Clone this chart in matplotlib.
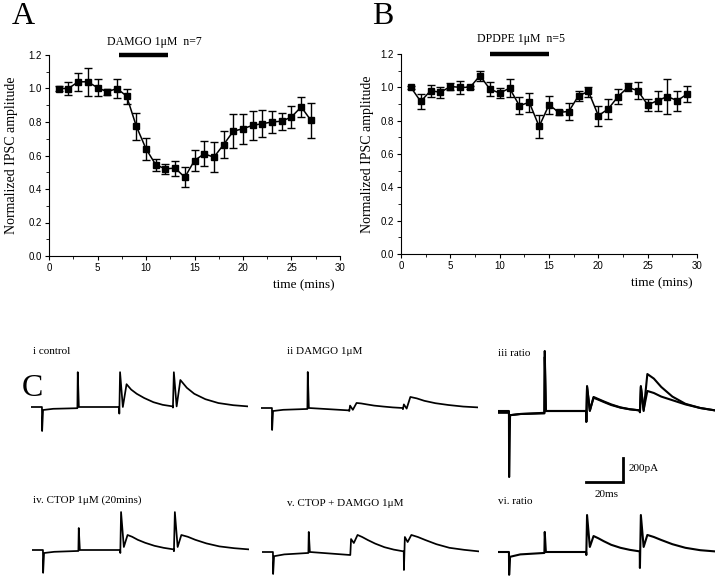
import numpy as np
import matplotlib
matplotlib.use("Agg")
import matplotlib.pyplot as plt
from matplotlib.ticker import MultipleLocator

# ---- panel A: DAMGO 1uM, n=7 ----
time_a = list(range(1, 28))
amp_a = [1.00, 1.00, 1.04, 1.04, 1.005, 0.98, 1.00, 0.955, 0.775, 0.64, 0.545, 0.52,
         0.525, 0.47, 0.57, 0.61, 0.59, 0.665, 0.745, 0.76, 0.78, 0.79, 0.80, 0.805,
         0.83, 0.89, 0.81]
err_a = [0.015, 0.04, 0.055, 0.085, 0.05, 0.02, 0.055, 0.045, 0.08, 0.065, 0.035, 0.03,
         0.045, 0.06, 0.065, 0.075, 0.09, 0.08, 0.10, 0.09, 0.085, 0.08, 0.065, 0.05,
         0.065, 0.06, 0.105]
drug_a = (7.2, 12.3)

# ---- panel B: DPDPE 1uM, n=5 ----
time_b = list(range(1, 30))
amp_b = [1.00, 0.915, 0.98, 0.97, 1.005, 1.00, 1.00, 1.07, 0.99, 0.965, 0.995, 0.89,
         0.91, 0.765, 0.895, 0.85, 0.855, 0.95, 0.975, 0.83, 0.87, 0.945, 1.00, 0.98,
         0.895, 0.92, 0.945, 0.92, 0.96]
err_b = [0.01, 0.045, 0.035, 0.035, 0.02, 0.04, 0.01, 0.03, 0.04, 0.03, 0.055, 0.05,
         0.055, 0.07, 0.055, 0.015, 0.05, 0.03, 0.03, 0.06, 0.06, 0.045, 0.025, 0.05,
         0.035, 0.06, 0.105, 0.06, 0.05]
drug_b = (9.05, 14.97)

# ---- panel C: current traces (vertices, ms / pA from baseline) ----
trace_ms = [0, 5.9, 6.0, 6.5, 12, 25.0, 25.2, 25.8, 47.5, 47.6, 48.0, 49.5, 51.5,
            54, 57, 61, 66, 71, 76.4, 76.5, 77.0, 78.5, 80.5, 84, 88, 94, 101, 109, 117]
tr_control = [0, 0, -200, -25, -15, -10, 290, 0, 0, -55, 290, 0, 190,
              145, 110, 75, 40, 18, 5, -5, 290, 5, 225, 160, 110, 65, 33, 15, 5]
tr_damgo = [0, 0, -183, -25, -15, -8, 300, 0, -20, -25, 20, -15, 42,
            38, 30, 20, 12, 5, 0, -10, 30, -5, 92, 80, 60, 40, 25, 12, 5]
tr_ratio_a = [0, 0, -550, -35, -25, -15, 500, 0, 0, -90, 208, 0, 117,
              100, 80, 55, 30, 15, 5, -10, 208, 0, 308, 270, 200, 120, 60, 25, 5]
tr_ratio_b = [-15, -15, -60, -35, -25, -20, 450, 0, 0, -90, 200, 5, 110,
              95, 75, 50, 28, 14, 5, -10, 200, 10, 167, 150, 120, 90, 55, 25, 5]
tr_ctop = [0, 0, -190, -25, -15, -8, 183, 0, 0, -25, 316, 25, 125,
           110, 85, 60, 35, 18, 5, -10, 316, 25, 125, 110, 85, 55, 30, 15, 5]
tr_ctop_damgo = [0, 0, -183, -35, -20, -8, 167, 0, -25, -25, 108, 75, 142,
                 125, 100, 70, 40, 20, 5, -150, 125, 83, 142, 125, 100, 65, 35, 18, 5]
tr_ratio2 = [0, 0, -190, -40, -20, -8, 167, 0, 0, -25, 308, 42, 133,
             115, 90, 60, 35, 18, 5, -133, 308, 42, 142, 125, 100, 65, 35, 15, 5]
scale_ms = 20
scale_pa = 200

plt.rcParams["font.family"] = ["Liberation Serif", "DejaVu Serif"]

W, H = 720, 580
fig = plt.figure(figsize=(7.2, 5.8), dpi=100)


def rect(left, top, right, bottom):
    return [left / W, 1 - bottom / H, (right - left) / W, (bottom - top) / H]


def plot_panel(box, t, y, e, drug, drug_text, text_xy, xlab_x):
    ax = fig.add_axes(box)
    ax.errorbar(t, y, yerr=e, fmt="-s", color="black", ms=5, lw=1.1,
                elinewidth=1, capsize=3, capthick=1)
    ax.set_xlim(0, 30)
    ax.set_ylim(0, 1.2)
    ax.spines[["top", "right"]].set_visible(False)
    ax.xaxis.set_major_locator(MultipleLocator(5))
    ax.xaxis.set_minor_locator(MultipleLocator(2.5))
    ax.yaxis.set_major_locator(MultipleLocator(0.2))
    ax.yaxis.set_minor_locator(MultipleLocator(0.1))
    ax.yaxis.set_major_formatter(lambda v, p: f"{v:.1f}")
    ax.tick_params(which="major", length=3, labelsize=7, pad=2)
    ax.tick_params(which="minor", length=2)
    for lab in ax.get_xticklabels() + ax.get_yticklabels():
        lab.set_family("Liberation Sans")
    ax.plot(drug, [1.2, 1.2], color="black", lw=3.2, solid_capstyle="butt",
            clip_on=False)
    ax.text(*text_xy, drug_text, ha="center", va="center", fontsize=8.5)
    ax.text(xlab_x, -0.145, "time (mins)", transform=ax.transAxes, ha="right",
            va="center", fontsize=9.5)
    return ax


plot_panel(rect(49, 55, 340, 256), time_a, amp_a, err_a, drug_a,
           "DAMGO 1\u03bcM  n=7", (10.9, 1.28), 0.983)
plot_panel(rect(401, 54, 697, 254), time_b, amp_b, err_b, drug_b,
           "DPDPE 1\u03bcM  n=5", (12.2, 1.29), 0.986)

fig.text(12 / W, 1 - 155 / H, "Normalized IPSC amplitude", rotation=90,
         ha="center", va="center", fontsize=10)
fig.text(367 / W, 1 - 154 / H, "Normalized IPSC amplitude", rotation=90,
         ha="center", va="center", fontsize=10)
fig.text(12 / W, 1 - 16 / H, "A", fontsize=23, va="center")
fig.text(372 / W, 1 - 16 / H, "B", fontsize=23, va="center")
fig.text(22 / W, 1 - 388 / H, "C", fontsize=23, va="center")

# trace panels: (left px, baseline px, traces, line width)
ms_per_px = 0.539
pa_per_px = 8.33
traces = [
    (31, 407, [tr_control], 1.25),
    (261, 408, [tr_damgo], 1.25),
    (498, 411, [tr_ratio_a, tr_ratio_b], 1.5),
    (32, 550, [tr_ctop], 1.25),
    (262, 552, [tr_ctop_damgo], 1.25),
    (498, 552, [tr_ratio2], 1.5),
]
axes_c = []
for left, base, ys, lw in traces:
    top = base - 600 / pa_per_px
    bottom = base + 750 / pa_per_px
    ax = fig.add_axes(rect(left, top, left + 117 / ms_per_px, bottom))
    ax.set_xlim(0, 117)
    ax.set_ylim(-750, 600)
    ax.axis("off")
    for yv in ys:
        ax.plot(trace_ms, yv, color="black", lw=lw)
    axes_c.append(ax)

# scale bar in the "iii ratio" axes
ax3 = axes_c[2]
x0, y0 = 47.4, -592
ax3.plot([x0, x0 + scale_ms, x0 + scale_ms], [y0, y0, y0 + scale_pa],
         color="black", lw=2, solid_joinstyle="miter")
ax3.text(x0 + scale_ms + 3, y0 + 0.55 * scale_pa, f"{scale_pa}pA", fontsize=8,
         va="center")
ax3.text(x0 + 0.55 * scale_ms, y0 - 100, f"{scale_ms}ms", fontsize=8,
         ha="center", va="center")

labels_c = [
    (33, 351, "i control"),
    (287, 351, "ii DAMGO 1\u03bcM"),
    (498, 353, "iii ratio"),
    (33, 500, "iv. CTOP 1\u03bcM (20mins)"),
    (287, 503, "v. CTOP + DAMGO 1\u03bcM"),
    (498, 502, "vi. ratio"),
]
for x, y, s in labels_c:
    fig.text(x / W, 1 - y / H, s, fontsize=8, va="center")

fig.savefig("out.png", dpi=100)
